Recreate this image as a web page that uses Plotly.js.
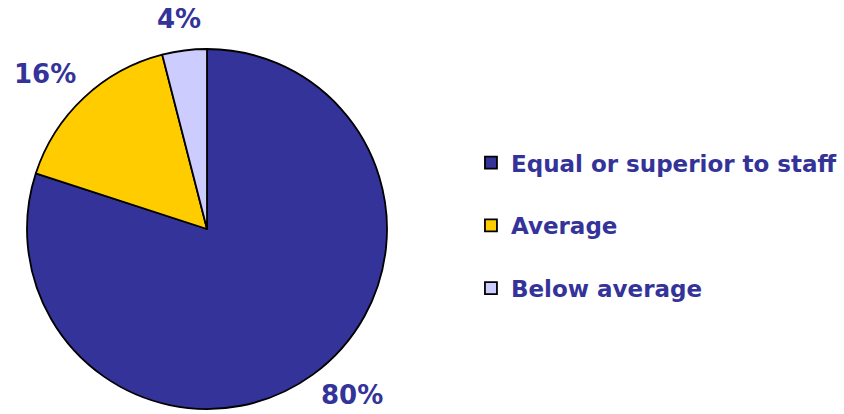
<!DOCTYPE html>
<html>
<head>
<meta charset="utf-8">
<script src="https://cdn.plot.ly/plotly-3.0.1.min.js"></script>
<style>html,body{margin:0;padding:0;background:#fff;}#chart{width:844px;height:414px;}</style>
</head>
<body>
<div id="chart"></div>
<script>
const categories = ["Equal or superior to staff", "Average", "Below average"];
const values = [80, 16, 4];
const sliceColors = ["#333399", "#FFCC00", "#CCCCFF"];

const W = 844, H = 414;
const pieDomain = { x: [27/W, 387/W], y: [5/H, 365/H] };
const labelFont = { family: "DejaVu Sans", size: 26, color: "#333399", weight: "bold" };

const trace = {
  type: "pie",
  labels: categories.map(c => c + "<br> "),
  values: values,
  sort: false,
  direction: "clockwise",
  rotation: 0,
  marker: { colors: sliceColors, line: { color: "#000000", width: 1.8 } },
  textinfo: "none",
  domain: pieDomain,
  hoverinfo: "label+percent"
};

// Percentage labels placed outside the slices, derived from the values
const total = values.reduce((a, b) => a + b, 0);
const cxPx = (pieDomain.x[0] + pieDomain.x[1]) / 2 * W;
const cyPx = (pieDomain.y[0] + pieDomain.y[1]) / 2 * H;
const charW = ch => (ch === "%" ? 1.002 : 0.696);
const halfBox = labelFont.size * 0.72;
let cum = 0;
const annotations = values.map(v => {
  const mid = (cum + v / 2) / total;
  cum += v;
  const th = 2 * Math.PI * mid;
  const s = Math.sin(th), c = Math.cos(th);
  const txt = Math.round(v / total * 100) + "%";
  const w = txt.split("").reduce((a, ch) => a + charW(ch), 0) * labelFont.size;
  const h = 16;
  const rLab = 205;
  let xPx = cxPx + rLab * s + s * w / 2 + (s > 0 ? 6 : 0);
  let yPx = cyPx + rLab * c + c * h / 2;
  yPx = Math.min(Math.max(yPx, halfBox), H - halfBox);
  return {
    xref: "paper", yref: "paper",
    x: xPx / W, y: yPx / H,
    xanchor: "center", yanchor: "middle",
    text: txt, showarrow: false, font: labelFont, borderpad: 0
  };
});

const layout = {
  width: W, height: H,
  margin: { l: 0, r: 0, t: 0, b: 0 },
  paper_bgcolor: "#ffffff",
  showlegend: true,
  font: { family: "DejaVu Sans", color: "#333399", weight: "bold" },
  annotations: annotations,
  legend: {
    x: 0.558, xanchor: "left",
    y: 0.659, yanchor: "top",
    valign: "top",
    font: { family: "DejaVu Sans", size: 23, color: "#333399", weight: "bold" },
    bgcolor: "rgba(0,0,0,0)"
  }
};

Plotly.newPlot("chart", [trace], layout, { displayModeBar: false, staticPlot: true });
</script>
</body>
</html>
